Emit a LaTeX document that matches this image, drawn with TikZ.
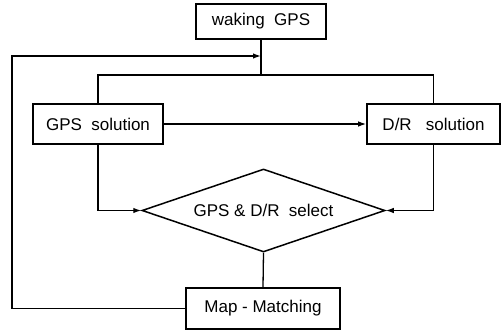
\documentclass[tikz,border=0pt]{standalone}
\usepackage{fontspec}
\setmainfont{Liberation Sans}
\usepackage{tikz}
\usetikzlibrary{positioning}
\usetikzlibrary{shapes.geometric}
\usetikzlibrary{arrows.meta}
\begin{document}
\begin{tikzpicture}[x=1pt, y=-1pt,
    font=\fontsize{17}{20}\selectfont,
    line width=1.3pt, >={Latex[length=8pt,width=5.5pt]},
    blockbox/.style={draw, rectangle, line width=1.6pt, inner sep=0pt},
    choicebox/.style={draw, diamond, line width=1.5pt, inner sep=0pt, aspect=2.9,
      minimum width=243pt, minimum height=83pt}]
    \useasboundingbox (0,0) rectangle (504,331);
    \node[blockbox, minimum width=130pt, minimum height=35pt] (wake) at (261,21.5) {waking\ \ GPS};
    \node[blockbox, minimum width=130pt, minimum height=40pt] (gpssol) at (98,124) {GPS\ \ solution};
    \node[blockbox, minimum width=133pt, minimum height=40pt] (drsol) at (433.5,124) {D/R\ \ \ solution};
    \node[choicebox] (select) at (263.5,210.5) {GPS \& D/R\ \ select};
    \node[blockbox, minimum width=154pt, minimum height=41pt] (map) at (263,308.5) {Map - Matching};
    \coordinate (split) at (wake.south |- 0,75);
    \coordinate (back) at (12,56);
    \coordinate (join) at (wake.south |- back);
    \draw (wake.south) -- (split);
    \draw (gpssol.north) |- (split) -| (drsol.north);
    \draw[->] (gpssol.east) -- (drsol.west);
    \draw[->] (gpssol.south) |- (select.west);
    \draw[->] (drsol.south) |- (select.east);
    \draw (select.south) -- (map.north);
    \draw[->] (map.west) -| (back) -- (join);
\end{tikzpicture}
\end{document}
